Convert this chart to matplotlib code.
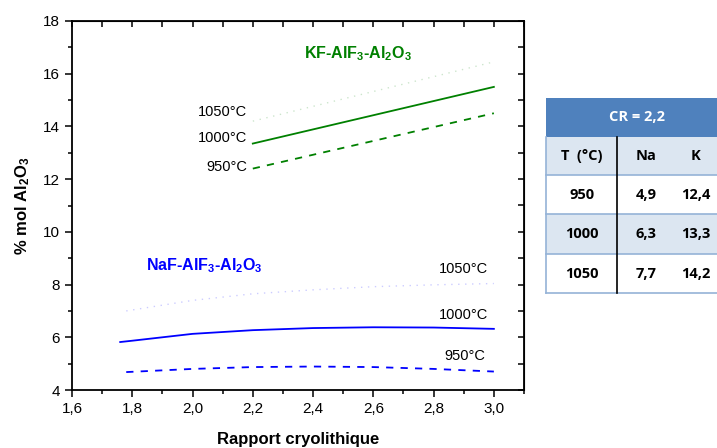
import matplotlib
matplotlib.use('Agg')
import matplotlib.pyplot as plt
from matplotlib.patches import Rectangle
from matplotlib.lines import Line2D
from matplotlib.ticker import MultipleLocator, FuncFormatter

plt.rcParams['font.family'] = ['Liberation Sans', 'DejaVu Sans']
plt.rcParams['mathtext.fontset'] = 'custom'
plt.rcParams['mathtext.rm'] = 'Liberation Sans:bold'
plt.rcParams['mathtext.default'] = 'rm'

# KF-AlF3-Al2O3 (straight lines)
kf_cr = [2.2, 3.0]
kf_950 = [12.4, 14.5]
kf_1000 = [13.35, 15.5]
kf_1050 = [14.2, 16.45]

# NaF-AlF3-Al2O3
naf_cr_950 = [1.78, 2.0, 2.2, 2.4, 2.6, 2.8, 3.0]
naf_950 = [4.68, 4.80, 4.87, 4.89, 4.87, 4.80, 4.70]
naf_cr_1000 = [1.76, 1.8, 2.0, 2.2, 2.4, 2.6, 2.8, 3.0]
naf_1000 = [5.82, 5.87, 6.13, 6.27, 6.35, 6.38, 6.37, 6.32]
naf_cr_1050 = [1.78, 2.0, 2.2, 2.4, 2.6, 2.8, 3.0]
naf_1050 = [7.0, 7.4, 7.65, 7.8, 7.92, 7.99, 8.04]

# table at CR = 2,2
tab_header = ['T  (°C)', 'Na', 'K']
tab_temp = ['950', '1000', '1050']
tab_na = ['4,9', '6,3', '7,7']
tab_k = ['12,4', '13,3', '14,2']

W, H = 717, 448
fig = plt.figure(figsize=(W / 100, H / 100), dpi=100)
ax = fig.add_axes([72 / W, 1 - 390 / H, (524 - 72) / W, (390 - 21) / H])

green = '#008000'
blue = '#0000ff'
dash = (0, (4, 4))
dot = (0, (1, 4))

ax.plot(kf_cr, kf_1000, color=green, lw=1.3)
ax.plot(kf_cr, kf_950, color=green, lw=1.3, linestyle=dash)
ax.plot(kf_cr, kf_1050, color=green, lw=1.0, linestyle=dot, alpha=0.2)

ax.plot(naf_cr_1000, naf_1000, color=blue, lw=1.3)
ax.plot(naf_cr_950, naf_950, color=blue, lw=1.3, linestyle=dash)
ax.plot(naf_cr_1050, naf_1050, color=blue, lw=1.0, linestyle=dot, alpha=0.2)

ax.set_xlim(1.6, 3.1)
ax.set_ylim(4, 18)
ax.xaxis.set_major_locator(MultipleLocator(0.2))
ax.xaxis.set_minor_locator(MultipleLocator(0.1))
ax.yaxis.set_major_locator(MultipleLocator(2))
ax.yaxis.set_minor_locator(MultipleLocator(1))
ax.xaxis.set_major_formatter(FuncFormatter(lambda v, p: f"{v:.1f}".replace('.', ',') if v <= 3.01 else ''))
ax.yaxis.set_major_formatter(FuncFormatter(lambda v, p: f"{v:.0f}"))
ax.tick_params(which='both', direction='out', width=1.1, labelsize=11, colors='black')
ax.tick_params(which='major', length=5)
ax.tick_params(which='minor', length=3)
for s in ax.spines.values():
    s.set_linewidth(1.3)

# inward ticks on top and right
top = ax.secondary_xaxis('top')
top.xaxis.set_major_locator(MultipleLocator(0.1))
top.tick_params(direction='in', length=4, width=1.1, labeltop=False)
right = ax.secondary_yaxis('right')
right.yaxis.set_major_locator(MultipleLocator(1))
right.tick_params(direction='in', length=4, width=1.1, labelright=False)

ax.set_xlabel('Rapport cryolithique', fontsize=12, fontweight='bold', labelpad=12)
ax.set_ylabel('% mol Al$_2$O$_3$', fontsize=12, fontweight='bold', labelpad=8)

# curve labels
ax.text(2.55, 16.75, 'KF-AlF$_3$-Al$_2$O$_3$',
        color=green, fontsize=11.5, fontweight='bold', ha='center', va='center')
ax.text(2.18, 14.55, '1050°C', fontsize=10.5, ha='right', va='center')
ax.text(2.18, 13.55, '1000°C', fontsize=10.5, ha='right', va='center')
ax.text(2.18, 12.45, '950°C', fontsize=10.5, ha='right', va='center')

ax.text(2.04, 8.7, 'NaF-AlF$_3$-Al$_2$O$_3$',
        color=blue, fontsize=11.5, fontweight='bold', ha='center', va='center')
ax.text(2.98, 8.6, '1050°C', fontsize=10.5, ha='right', va='center')
ax.text(2.98, 6.85, '1000°C', fontsize=10.5, ha='right', va='center')
ax.text(2.97, 5.3, '950°C', fontsize=10.5, ha='right', va='center')

# table drawn in figure pixel coordinates
def fx(px):
    return px / W

def fy(py):
    return 1 - py / H

tx0, tx1 = 546, 717
rows_y = [137, 175, 214, 254, 293]
col_x = [582, 646, 696]
head_blue = '#4f81bd'
light = '#dce6f1'
line_blue = '#95b3d7'
tfont = ['Open Sans', 'DejaVu Sans']

fig.patches.append(Rectangle((fx(tx0), fy(rows_y[0])), fx(tx1) - fx(tx0), fy(98) - fy(rows_y[0]),
                             transform=fig.transFigure, facecolor=head_blue, edgecolor='none'))
fig.text(fx(637), fy(117), 'CR = 2,2', color='white', fontsize=10.5, fontweight='bold',
         ha='center', va='center', family=tfont)

rows = [tab_header] + [[t, n, k] for t, n, k in zip(tab_temp, tab_na, tab_k)]
for i, row in enumerate(rows):
    ytop, ybot = rows_y[i], rows_y[i + 1]
    fc = light if i % 2 == 0 else 'white'
    fig.patches.append(Rectangle((fx(tx0), fy(ybot)), fx(tx1) - fx(tx0), fy(ytop) - fy(ybot),
                                 transform=fig.transFigure, facecolor=fc, edgecolor='none'))
    for cx, txt in zip(col_x, row):
        fig.text(fx(cx), fy((ytop + ybot) / 2), txt, fontsize=10.5, fontweight='bold',
                 ha='center', va='center', family=tfont)
    fig.lines.append(Line2D([fx(tx0), fx(tx1)], [fy(ybot), fy(ybot)], transform=fig.transFigure,
                            color=line_blue, lw=1.2))
fig.lines.append(Line2D([fx(tx0), fx(tx0)], [fy(rows_y[0]), fy(rows_y[-1])], transform=fig.transFigure,
                        color=line_blue, lw=1.2))
fig.lines.append(Line2D([fx(617), fx(617)], [fy(rows_y[0]), fy(rows_y[-1])], transform=fig.transFigure,
                        color='black', lw=1.2))

fig.savefig('out.png', dpi=100)
